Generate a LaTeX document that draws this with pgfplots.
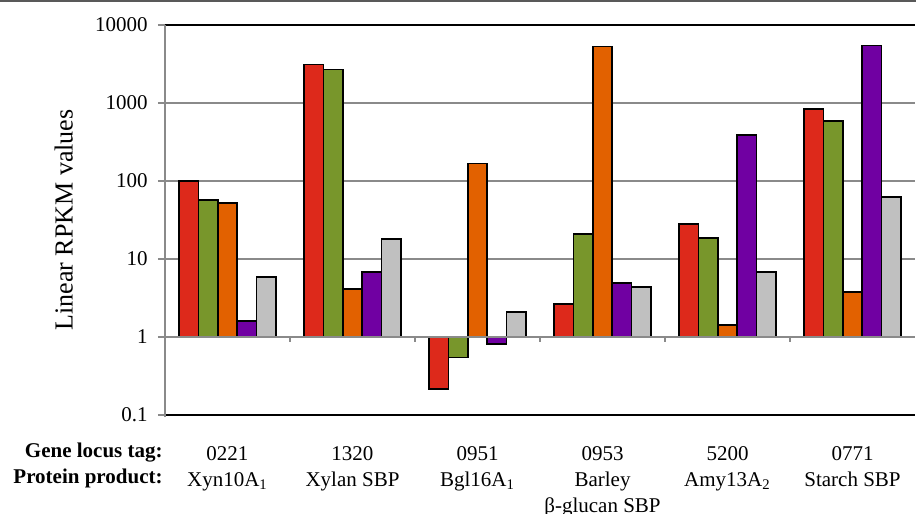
\documentclass[border=0pt]{standalone}
\usepackage{fontspec}
\setmainfont{Liberation Serif}
\usepackage{pgfplots}
\pgfplotsset{compat=1.18}
\definecolor{cred}{RGB}{221,41,27}
\definecolor{cgreen}{RGB}{120,150,43}
\definecolor{corange}{RGB}{226,97,0}
\definecolor{cpurple}{RGB}{112,0,162}
\definecolor{cgrey}{RGB}{192,192,192}
\definecolor{gridgray}{RGB}{138,138,138}
\begin{document}
\begin{tikzpicture}
\useasboundingbox (-82.5pt,-49.5pt) rectangle (375.5pt,207.5pt);
\begin{axis}[
  at={(0,0)}, anchor=south west,
  scale only axis, width=375pt, height=195pt,
  ymode=log, ymin=0.1, ymax=10000, xmin=-0.5, xmax=5.5,
  ybar, bar width=0.155,
  axis line style={draw=none},
  ytick={0.1,1,10,100,1000,10000},
  yticklabels={0.1,1,10,100,1000,10000},
  yminorticks=false,
  ytick pos=left, tick align=outside,
  major tick length=3.5pt,
  major tick style={gridgray, line width=0.8pt},
  ymajorgrids, major grid style={gridgray, line width=0.75pt},
  xtick={0,1,2,3,4,5},
  xticklabels={{0221\\Xyn10A\textsubscript{1}},{1320\\Xylan SBP},{0951\\Bgl16A\textsubscript{1}},{0953\\Barley\\β-glucan SBP},{5200\\Amy13A\textsubscript{2}},{0771\\Starch SBP}},
  major x tick style={draw=none},
  xtick pos=bottom,
  tick label style={font=\fontsize{10.5}{13}\selectfont},
  xticklabel style={anchor=north, align=center, inner sep=0pt, yshift=-12pt},
  yticklabel style={inner sep=0pt, xshift=-5pt},
  ylabel={Linear RPKM values},
  every axis y label/.style={at={(axis description cs:-0.135,0.5)}, rotate=90, anchor=center, font=\fontsize{13}{15}\selectfont},
  clip=false,
]
\addplot[fill=cred, draw=black, line width=0.75pt, bar shift=-0.31] table {
x y
0 100
1 3100
2 0.215
3 2.65
4 28
5 838
};
\addplot[fill=cgreen, draw=black, line width=0.75pt, bar shift=-0.155] table {
x y
0 57
1 2670
2 0.55
3 21
4 18.6
5 588
};
\addplot[fill=corange, draw=black, line width=0.75pt, bar shift=0] table {
x y
0 52
1 4.1
2 167
3 5270
4 1.43
5 3.8
};
\addplot[fill=cpurple, draw=black, line width=0.75pt, bar shift=0.155] table {
x y
0 1.6
1 6.8
2 0.81
3 4.9
4 389
5 5430
};
\addplot[fill=cgrey, draw=black, line width=0.75pt, bar shift=0.31] table {
x y
0 5.9
1 18
2 2.1
3 4.4
4 6.8
5 62
};
\draw[gridgray, line width=1pt] (axis cs:-0.5,1) -- (axis cs:5.5,1);
\pgfplotsinvokeforeach{0.5,1.5,2.5,3.5,4.5}{\draw[gridgray, line width=0.75pt] (axis cs:#1,1) -- ([yshift=-2.5pt]axis cs:#1,1);}
\draw[black, line width=0.9pt] (rel axis cs:0,1) -- (rel axis cs:1,1);
\draw[black, line width=0.9pt] (rel axis cs:0,0) -- (rel axis cs:1,0);
\draw[gridgray, line width=1pt] ([yshift=-1pt]rel axis cs:0,0) -- (rel axis cs:0,1);
\node[anchor=base east, inner sep=0pt, font=\fontsize{10.5}{13}\selectfont\bfseries] at ([xshift=-1pt,yshift=-21pt]rel axis cs:0,0) {Gene locus tag:};
\node[anchor=base east, inner sep=0pt, font=\fontsize{10.5}{13}\selectfont\bfseries] at ([xshift=-1pt,yshift=-34pt]rel axis cs:0,0) {Protein product:};
\end{axis}
\draw[gray!70!black, line width=0.8pt] (-82.5pt,207pt) -- (375.5pt,207pt);
\end{tikzpicture}
\end{document}
